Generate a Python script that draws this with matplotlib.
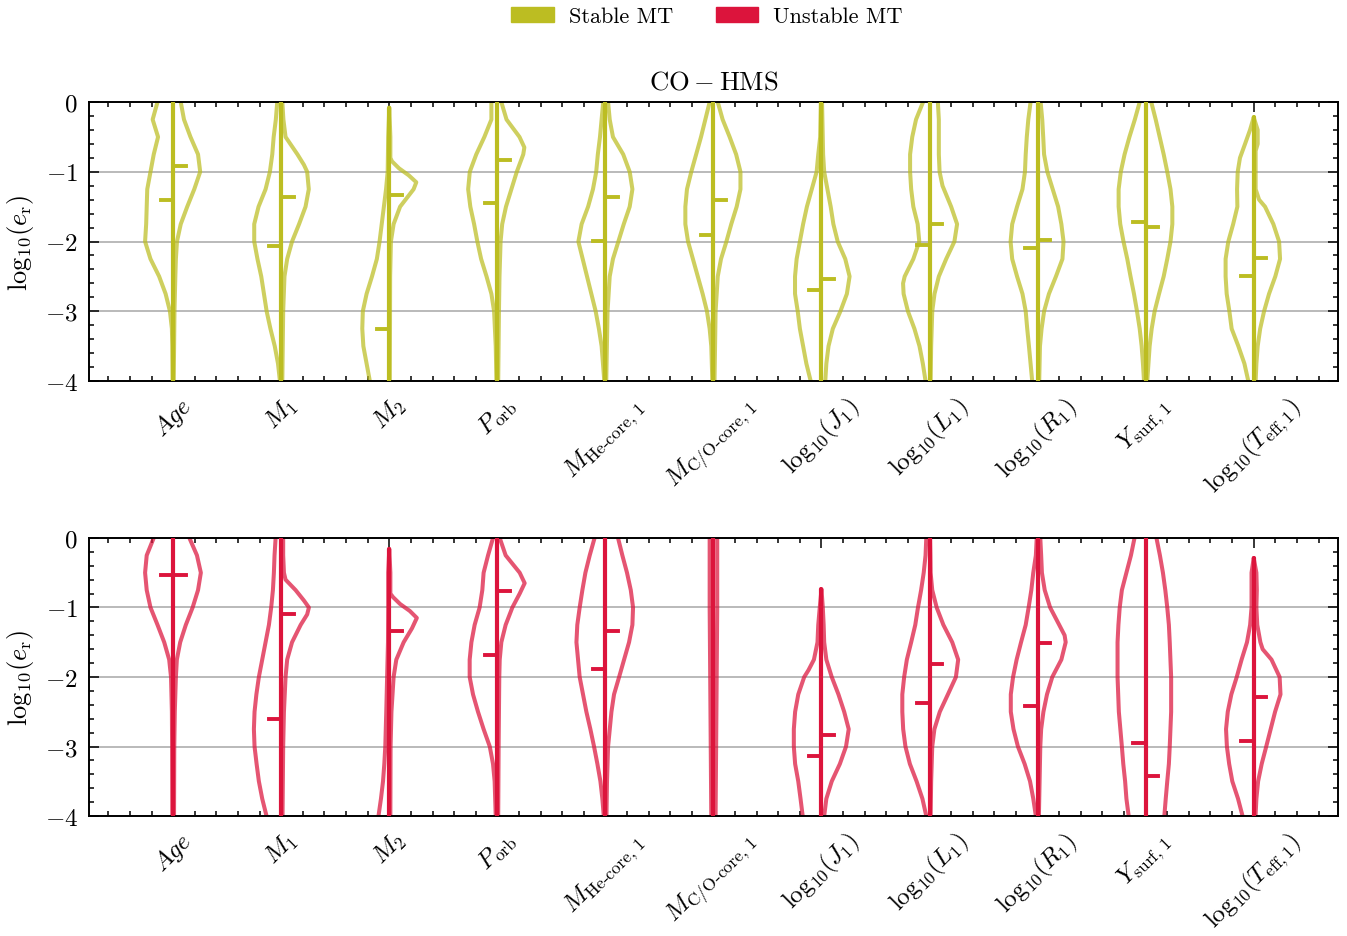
import matplotlib
matplotlib.use("Agg")
import matplotlib.pyplot as plt
from matplotlib.patches import Patch
from matplotlib.ticker import MultipleLocator
import numpy as np

plt.rcParams["font.family"] = "serif"
plt.rcParams["font.serif"] = ["cmr10", "DejaVu Serif"]
plt.rcParams["mathtext.fontset"] = "cm"
plt.rcParams["axes.formatter.use_mathtext"] = True
plt.rcParams["font.size"] = 16

STABLE_COLOR = "#bcbd22"
UNSTABLE_COLOR = "#dc143c"

LABELS = [
    r"$Age$", r"$M_1$", r"$M_2$", r"$P_\mathrm{orb}$",
    r"$M_{\text{He-core, 1}}$", r"$M_{\text{C/O-core, 1}}$",
    r"$\mathrm{log}_{10}(J_1)$", r"$\mathrm{log}_{10}(L_1)$", r"$\mathrm{log}_{10}(R_1)$",
    r"$Y_{\text{surf, 1}}$", r"$\mathrm{log}_{10}(T_{\text{eff},1})$",
]

# half-violin profiles: (log10 e_r, half width)
STABLE_LEFT = [
    [(0, .145), (-.25, .19), (-.5, .14), (-.75, .18), (-1, .21), (-1.25, .24), (-1.5, .245), (-1.75, .25), (-2, .26), (-2.25, .21), (-2.5, .13), (-2.75, .07), (-3, .03), (-3.25, .012), (-3.5, .008), (-4, .005)],
    [(0, .037), (-.25, .05), (-.5, .07), (-.75, .083), (-1, .105), (-1.25, .145), (-1.5, .21), (-1.75, .25), (-2, .25), (-2.25, .22), (-2.5, .185), (-2.75, .16), (-3, .135), (-3.25, .1), (-3.5, .06), (-3.75, .03), (-4, .012)],
    [(-.08, 0), (-.5, .01), (-1, .015), (-1.25, .03), (-1.5, .05), (-1.75, .07), (-2, .09), (-2.25, .115), (-2.5, .16), (-2.75, .21), (-3, .245), (-3.25, .25), (-3.5, .24), (-3.75, .21), (-4, .18)],
    [(0, .055), (-.25, .055), (-.5, .12), (-.75, .195), (-1, .255), (-1.25, .27), (-1.5, .25), (-1.75, .215), (-2, .185), (-2.25, .15), (-2.5, .1), (-2.75, .055), (-3, .03), (-3.5, .015), (-4, .008)],
    [(0, .02), (-.25, .035), (-.5, .05), (-.75, .07), (-1, .085), (-1.25, .115), (-1.5, .16), (-1.75, .22), (-2, .25), (-2.25, .21), (-2.5, .17), (-2.75, .13), (-3, .09), (-3.25, .06), (-3.5, .035), (-4, .01)],
    [(0, .035), (-.25, .075), (-.5, .115), (-.75, .16), (-1, .205), (-1.25, .245), (-1.5, .26), (-1.75, .26), (-2, .235), (-2.25, .19), (-2.5, .145), (-2.75, .1), (-3, .06), (-3.25, .035), (-3.5, .02), (-4, .01)],
    [(0, .005), (-.5, .012), (-.75, .03), (-1, .045), (-1.25, .09), (-1.5, .135), (-1.75, .17), (-2, .2), (-2.25, .23), (-2.5, .245), (-2.75, .245), (-3, .22), (-3.25, .2), (-3.5, .17), (-3.75, .14), (-4, .1)],
    [(0, .06), (-.25, .125), (-.5, .16), (-.75, .18), (-1, .18), (-1.25, .17), (-1.5, .15), (-1.75, .11), (-2, .095), (-2.25, .15), (-2.5, .23), (-2.6, .245), (-2.75, .24), (-3, .2), (-3.25, .14), (-3.5, .093), (-3.75, .062), (-4, .037)],
    [(0, .065), (-.25, .086), (-.5, .1), (-.75, .11), (-1, .117), (-1.25, .14), (-1.5, .19), (-1.75, .235), (-2, .25), (-2.25, .235), (-2.5, .19), (-2.75, .14), (-3, .11), (-3.25, .096), (-3.5, .08), (-3.75, .065), (-4, .05)],
    [(0, .055), (-.25, .1), (-.5, .15), (-.75, .195), (-1, .23), (-1.25, .25), (-1.5, .25), (-1.75, .235), (-2, .205), (-2.25, .17), (-2.5, .14), (-2.75, .108), (-3, .08), (-3.25, .055), (-3.5, .037), (-3.75, .025), (-4, .015)],
    [(-.22, 0), (-.4, .034), (-.6, .08), (-.8, .127), (-1, .148), (-1.25, .154), (-1.5, .151), (-1.75, .19), (-2, .235), (-2.25, .26), (-2.5, .26), (-2.75, .25), (-3, .225), (-3.25, .204), (-3.5, .142), (-3.75, .086), (-4, .05)],
]
STABLE_RIGHT = [
    [(0, .07), (-.25, .1), (-.5, .16), (-.75, .23), (-1, .25), (-1.25, .195), (-1.5, .13), (-1.75, .07), (-2, .035), (-2.25, .025), (-2.5, .02), (-3, .012), (-4, .005)],
    [(0, .01), (-.25, .02), (-.5, .04), (-.75, .15), (-.9, .21), (-1, .24), (-1.25, .255), (-1.5, .225), (-1.75, .165), (-2, .1), (-2.25, .055), (-2.5, .03), (-3, .018), (-4, .01)],
    [(-.08, 0), (-.5, .01), (-.8, .01), (-.85, .025), (-.95, .09), (-1.05, .18), (-1.15, .25), (-1.25, .225), (-1.4, .15), (-1.5, .1), (-1.75, .04), (-2, .015), (-2.5, .008), (-4, .005)],
    [(0, .037), (-.25, .085), (-.5, .205), (-.65, .25), (-.75, .24), (-1, .18), (-1.25, .13), (-1.5, .08), (-1.75, .045), (-2, .03), (-2.5, .02), (-3, .015), (-4, .008)],
    [(0, .025), (-.25, .04), (-.5, .07), (-.75, .165), (-1, .225), (-1.25, .25), (-1.5, .225), (-1.75, .17), (-2, .12), (-2.25, .07), (-2.5, .04), (-3, .02), (-4, .008)],
    [(0, .04), (-.25, .085), (-.5, .15), (-.75, .21), (-1, .25), (-1.25, .25), (-1.5, .215), (-1.75, .165), (-2, .12), (-2.25, .07), (-2.5, .04), (-3, .02), (-4, .01)],
    [(0, .005), (-.75, .015), (-1, .025), (-1.25, .055), (-1.5, .085), (-1.75, .11), (-2, .15), (-2.25, .22), (-2.5, .26), (-2.75, .235), (-3, .175), (-3.25, .105), (-3.5, .065), (-3.75, .045), (-4, .035)],
    [(0, .077), (-.25, .086), (-.5, .086), (-.75, .086), (-1, .093), (-1.2, .12), (-1.5, .2), (-1.75, .255), (-2, .23), (-2.25, .154), (-2.5, .086), (-2.75, .046), (-3, .025), (-3.5, .015), (-4, .01)],
    [(0, .028), (-.25, .043), (-.5, .052), (-.75, .06), (-1, .09), (-1.25, .14), (-1.5, .19), (-1.75, .22), (-2, .24), (-2.25, .23), (-2.5, .17), (-2.75, .105), (-3, .06), (-3.25, .037), (-3.5, .022), (-4, .015)],
    [(0, .052), (-.25, .093), (-.5, .13), (-.75, .167), (-1, .2), (-1.25, .23), (-1.5, .247), (-1.75, .247), (-2, .23), (-2.25, .2), (-2.5, .167), (-2.75, .124), (-3, .083), (-3.25, .056), (-3.5, .037), (-4, .015)],
    [(-.22, 0), (-.4, .037), (-.6, .037), (-.7, .018), (-1.25, .018), (-1.4, .05), (-1.5, .105), (-1.75, .182), (-2, .235), (-2.25, .244), (-2.5, .2), (-2.75, .142), (-3, .096), (-3.25, .06), (-3.5, .037), (-3.75, .025), (-4, .018)],
]
UNSTABLE_LEFT = [
    [(0, .18), (-.25, .245), (-.5, .26), (-.75, .245), (-1, .21), (-1.25, .145), (-1.5, .083), (-1.75, .037), (-2, .02), (-2.5, .012), (-3, .01), (-4, .008)],
    [(0, .052), (-.25, .062), (-.5, .068), (-.75, .077), (-1, .093), (-1.25, .114), (-1.5, .145), (-1.75, .176), (-2, .207), (-2.25, .23), (-2.5, .247), (-2.75, .253), (-3, .247), (-3.25, .228), (-3.5, .207), (-3.75, .176), (-4, .136)],
    [(-.16, 0), (-.5, .01), (-1, .01), (-1.5, .012), (-2, .02), (-2.5, .028), (-3, .037), (-3.25, .046), (-3.5, .058), (-3.75, .077), (-4, .1)],
    [(0, .04), (-.25, .086), (-.5, .127), (-.75, .139), (-1, .164), (-1.25, .21), (-1.5, .24), (-1.75, .256), (-2, .256), (-2.25, .225), (-2.5, .179), (-2.75, .127), (-3, .07), (-3.25, .04), (-3.5, .025), (-4, .015)],
    [(0, .1), (-.25, .145), (-.5, .185), (-.75, .213), (-1, .238), (-1.25, .26), (-1.5, .268), (-1.75, .253), (-2, .238), (-2.25, .207), (-2.5, .176), (-2.75, .139), (-3, .105), (-3.25, .074), (-3.5, .046), (-3.75, .028), (-4, .015)],
    [(0, .035), (-1, .035), (-2, .03), (-3, .025), (-4, .02)],
    [(-.74, 0), (-1, .016), (-1.25, .03), (-1.5, .037), (-1.75, .07), (-1.9, .12), (-2, .16), (-2.25, .215), (-2.5, .244), (-2.75, .256), (-3, .256), (-3.25, .244), (-3.5, .215), (-3.75, .194), (-4, .174)],
    [(0, .03), (-.25, .037), (-.5, .054), (-.75, .078), (-1, .107), (-1.25, .132), (-1.5, .17), (-1.75, .21), (-2, .235), (-2.25, .252), (-2.5, .252), (-2.75, .244), (-3, .223), (-3.25, .182), (-3.5, .12), (-3.75, .066), (-4, .03)],
    [(0, .008), (-.25, .016), (-.5, .04), (-.75, .058), (-1, .083), (-1.25, .11), (-1.5, .153), (-1.75, .194), (-2, .227), (-2.25, .248), (-2.5, .248), (-2.75, .223), (-3, .182), (-3.25, .12), (-3.5, .07), (-3.75, .04), (-4, .016)],
    [(0, .103), (-.25, .136), (-.5, .178), (-.75, .22), (-1, .24), (-1.25, .252), (-1.5, .26), (-2, .26), (-2.5, .248), (-3, .22), (-3.25, .207), (-3.5, .19), (-3.75, .178), (-4, .157)],
    [(-.29, 0), (-.5, .02), (-1, .02), (-1.25, .033), (-1.5, .062), (-1.75, .112), (-2, .157), (-2.25, .207), (-2.5, .24), (-2.75, .256), (-3, .248), (-3.25, .227), (-3.5, .198), (-3.75, .145), (-4, .103)],
]
UNSTABLE_RIGHT = [
    [(0, .15), (-.25, .22), (-.5, .256), (-.75, .23), (-1, .18), (-1.25, .117), (-1.5, .065), (-1.75, .034), (-2, .025), (-2.5, .015), (-3, .01), (-4, .008)],
    [(0, .018), (-.25, .018), (-.5, .025), (-.6, .04), (-.75, .133), (-.9, .21), (-1, .256), (-1.1, .24), (-1.25, .18), (-1.5, .1), (-1.75, .055), (-2, .04), (-2.5, .025), (-3, .018), (-4, .012)],
    [(-.16, 0), (-.5, .01), (-.8, .01), (-.85, .034), (-.95, .1), (-1.05, .19), (-1.15, .255), (-1.3, .21), (-1.5, .133), (-1.75, .065), (-2, .04), (-2.5, .02), (-3, .012), (-4, .01)],
    [(0, .022), (-.25, .077), (-.5, .207), (-.65, .253), (-.8, .207), (-1, .139), (-1.25, .077), (-1.5, .037), (-1.75, .022), (-2, .018), (-3, .012), (-4, .008)],
    [(0, .117), (-.25, .157), (-.5, .2), (-.75, .235), (-1, .256), (-1.25, .25), (-1.5, .219), (-1.75, .173), (-2, .127), (-2.25, .08), (-2.5, .056), (-3, .025), (-3.5, .015), (-4, .01)],
    [(0, .035), (-1, .035), (-2, .03), (-3, .025), (-4, .02)],
    [(-.74, 0), (-1, .012), (-1.25, .02), (-1.5, .025), (-1.75, .045), (-2, .095), (-2.25, .157), (-2.5, .21), (-2.75, .252), (-3, .227), (-3.25, .17), (-3.5, .095), (-3.75, .045), (-4, .025)],
    [(0, .005), (-.25, .008), (-.5, .01), (-.75, .025), (-1, .066), (-1.25, .128), (-1.5, .21), (-1.75, .265), (-2, .244), (-2.25, .17), (-2.5, .095), (-2.75, .045), (-3, .025), (-3.5, .015), (-4, .01)],
    [(0, .025), (-.25, .033), (-.5, .04), (-.75, .066), (-1, .116), (-1.25, .2), (-1.4, .25), (-1.5, .26), (-1.75, .22), (-2, .136), (-2.25, .087), (-2.5, .054), (-2.75, .033), (-3, .025), (-4, .012)],
    [(0, .1), (-.25, .132), (-.5, .16), (-.75, .182), (-1, .2), (-1.25, .215), (-1.5, .223), (-2, .236), (-2.5, .236), (-3, .223), (-3.25, .215), (-3.5, .2), (-3.75, .186), (-4, .173)],
    [(-.29, 0), (-.5, .025), (-.75, .029), (-1, .025), (-1.25, .033), (-1.5, .062), (-1.6, .083), (-1.75, .165), (-2, .24), (-2.25, .248), (-2.5, .198), (-2.75, .157), (-3, .116), (-3.25, .074), (-3.5, .041), (-3.75, .025), (-4, .017)],
]

STABLE_MED_LEFT = [-1.40, -2.06, -3.26, -1.45, -1.99, -1.91, -2.70, -2.05, -2.09, -1.72, -2.49]
STABLE_MED_RIGHT = [-0.92, -1.36, -1.33, -0.83, -1.36, -1.40, -2.54, -1.75, -1.98, -1.79, -2.24]
UNSTABLE_MED_LEFT = [-0.53, -2.61, None, -1.69, -1.89, None, -3.13, -2.38, -2.42, -2.95, -2.92]
UNSTABLE_MED_RIGHT = [-0.53, -1.10, -1.34, -0.77, -1.34, None, -2.83, -1.82, -1.51, -3.43, -2.29]

STABLE_TOP = [0, 0, -0.08, 0, 0, 0, 0, 0, 0, 0, -0.22]
UNSTABLE_TOP = [0, 0, -0.16, 0, 0, 0, -0.74, 0, 0, 0, -0.29]


def draw_panel(ax, left, right, med_l, med_r, tops, color):
    for i in range(len(LABELS)):
        yl, wl = np.array(left[i]).T
        yr, wr = np.array(right[i]).T
        ax.plot(i - wl, yl, color=color, lw=2.9, alpha=0.72, solid_capstyle="round",
                solid_joinstyle="round", zorder=2)
        ax.plot(i + wr, yr, color=color, lw=2.9, alpha=0.72, solid_capstyle="round",
                solid_joinstyle="round", zorder=2)
        ax.plot([i, i], [tops[i] if tops[i] < 0 else 0.5, -4.5], color=color,
                lw=3.0, solid_capstyle="round", zorder=3)
        if med_l[i] is not None:
            ax.plot([i - 0.115, i], [med_l[i]] * 2, color=color, lw=2.8, zorder=4)
        if med_r[i] is not None:
            ax.plot([i, i + 0.115], [med_r[i]] * 2, color=color, lw=2.8, zorder=4)

    ax.set_xlim(-0.78, len(LABELS) - 1 + 0.78)
    ax.set_ylim(-4, 0)
    ax.set_xticks(range(len(LABELS)))
    ax.set_xticklabels(LABELS, rotation=45, ha="center", va="top", fontsize=18)
    ax.xaxis.set_minor_locator(MultipleLocator(0.2))
    ax.yaxis.set_major_locator(MultipleLocator(1))
    ax.yaxis.set_minor_locator(MultipleLocator(0.2))
    ax.tick_params(which="both", direction="in", top=True, right=True, width=1.1)
    ax.tick_params(which="major", length=7, pad=8)
    ax.tick_params(axis="y", which="major", labelsize=18)
    ax.tick_params(which="minor", length=3.5)
    ax.yaxis.grid(True, color="#b4b4b4", lw=1.3)
    ax.set_axisbelow(True)
    for s in ax.spines.values():
        s.set_linewidth(1.4)
    ax.set_ylabel(r"$\mathrm{log}_{10}(e_\mathrm{r})$", fontsize=19, labelpad=6)


fig = plt.figure(figsize=(13.47, 9.37), dpi=100)
ax1 = fig.add_axes([0.066, 0.5923, 0.9273, 0.2977])
ax2 = fig.add_axes([0.066, 0.128, 0.9273, 0.2968])

draw_panel(ax1, STABLE_LEFT, STABLE_RIGHT, STABLE_MED_LEFT, STABLE_MED_RIGHT, STABLE_TOP, STABLE_COLOR)
draw_panel(ax2, UNSTABLE_LEFT, UNSTABLE_RIGHT, UNSTABLE_MED_LEFT, UNSTABLE_MED_RIGHT, UNSTABLE_TOP, UNSTABLE_COLOR)
ax1.set_title(r"$\mathrm{CO} - \mathrm{HMS}$", pad=10)

handles = [Patch(color=STABLE_COLOR, label="Stable MT"),
           Patch(color=UNSTABLE_COLOR, label="Unstable MT")]
fig.legend(handles=handles, loc="upper center", bbox_to_anchor=(0.525, 1.013), ncol=2,
           frameon=False, handlelength=1.9, handleheight=0.7, handletextpad=0.7,
           columnspacing=1.9)

fig.savefig("out.png", dpi=100)
